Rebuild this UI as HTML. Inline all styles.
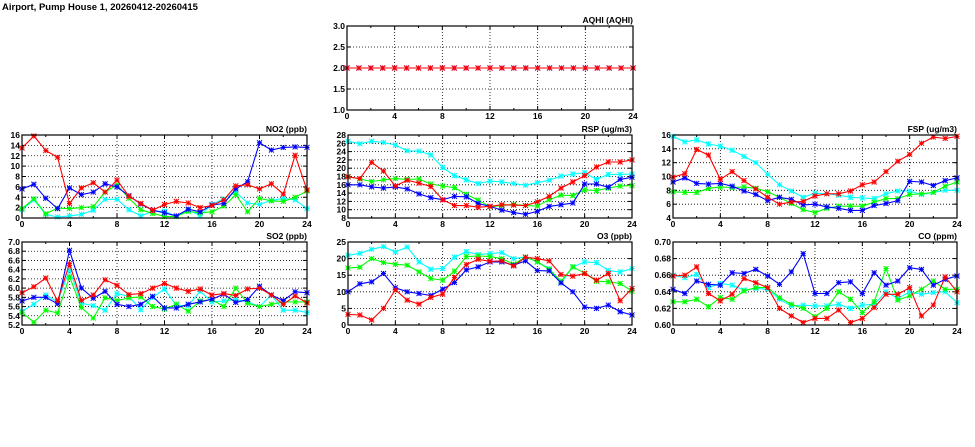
<!DOCTYPE html><html><head><meta charset="utf-8"><style>body{margin:0;background:#fff;width:975px;height:447px;overflow:hidden}svg{display:block}text{font-family:"Liberation Sans",sans-serif;font-weight:bold;font-size:8.5px;fill:#000}</style></head><body>
<svg id="s" width="975" height="447" xmlns="http://www.w3.org/2000/svg"><text x="2" y="10" style="font-size:9.5px">Airport, Pump House 1, 20260412-20260415</text></svg>
<script>
const S=document.getElementById('s');let h='';
const C={r:'#ff0000',b:'#0000ff',g:'#00ff00',c:'#00ffff'};
function panel(x0,x1,y0,y1,ymin,ymax,step,dec,label,series){
 const X=t=>x0+(x1-x0)*t/24,Y=v=>y1-(y1-y0)*(v-ymin)/(ymax-ymin);
 for(let t=4;t<24;t+=4)h+=`<line x1="${X(t)}" y1="${y0}" x2="${X(t)}" y2="${y1}" stroke="#000" stroke-width="0.8" stroke-dasharray="1,2"/>`;
 for(let v=ymin+step;v<ymax-1e-9;v+=step)h+=`<line x1="${x0}" y1="${Y(v)}" x2="${x1}" y2="${Y(v)}" stroke="#000" stroke-width="0.8" stroke-dasharray="1,2"/>`;
 for(let t=0;t<=24;t+=2){h+=`<line x1="${X(t)}" y1="${y1}" x2="${X(t)}" y2="${y1-(t%4?2:4)}" stroke="#000"/><line x1="${X(t)}" y1="${y0}" x2="${X(t)}" y2="${y0+(t%4?2:4)}" stroke="#000"/>`;if(t%4==0)h+=`<text x="${X(t)}" y="${y1+9}" text-anchor="middle">${t}</text>`;}
 for(let v=ymin;v<=ymax+1e-9;v+=step){h+=`<text x="${x0-2}" y="${Y(v)+3}" text-anchor="end">${v.toFixed(dec)}</text><line x1="${x0}" y1="${Y(v)}" x2="${x0+4}" y2="${Y(v)}" stroke="#000"/><line x1="${x1}" y1="${Y(v)}" x2="${x1-4}" y2="${Y(v)}" stroke="#000"/>`;}
 h+=`<text x="${x1}" y="${y0-3}" text-anchor="end">${label}</text>`;
 for(const [k,d] of series){const col=C[k];const p=d.map((v,i)=>X(i).toFixed(1)+','+Y(v).toFixed(1)).join(' ');
  h+=`<polyline points="${p}" fill="none" stroke="${col}" stroke-width="1.1"/>`;
  d.forEach((v,i)=>{const x=X(i),y=Y(v);h+=`<path d="M${x-2.5},${y-2.5}L${x+2.5},${y+2.5}M${x-2.5},${y+2.5}L${x+2.5},${y-2.5}M${x-2.5},${y}L${x+2.5},${y}M${x},${y-2.5}L${x},${y+2.5}" stroke="${col}" stroke-width="1"/>`;});}
 h+=`<rect x="${x0}" y="${y0}" width="${x1-x0}" height="${y1-y0}" fill="none" stroke="#000" stroke-width="1.2"/>`;
}
const two=Array(25).fill(2);
panel(347,633,26,110,1,3,0.5,1,'AQHI (AQHI)',[['b',two],['r',two]]);
panel(22,307,135,218,0,16,2,0,'NO2 (ppb)',[
['c',[1.6,3.5,0.7,0.2,0.4,0.7,1.5,3.6,3.6,1.6,0.4,1.3,1.3,0.3,1.5,0.5,2.6,3.7,5,2.9,2.6,3.4,3.8,3.5,1.8]],
['g',[1.8,3.7,0.8,1.9,1.8,2,2.2,5,6.4,3.8,1.6,0.9,0.3,0.3,1.3,1,1.2,2.3,4.5,1.2,3.8,3.3,3.2,4,5.2]],
['b',[5.6,6.5,3.8,1.8,5.8,4.5,5,6.6,6,4.3,2.7,1.5,1,0.4,1.7,1.2,2.5,2.8,5.6,7,14.5,13.1,13.6,13.7,13.6]],
['r',[13.5,15.8,13,11.7,2.8,5.8,6.8,5,7.3,4.2,2.8,1.5,2.6,3.2,2.9,2,2.4,3.5,6.2,6.4,5.6,6.6,4.6,12.1,5.4]]]);
panel(22,307,242,325,5.2,7.0,0.2,1,'SO2 (ppb)',[
['c',[5.5,5.65,5.85,5.7,6.4,5.67,5.62,5.52,5.88,5.82,5.53,5.8,5.98,5.62,5.62,5.93,5.7,5.72,5.75,5.7,5.6,5.85,5.52,5.52,5.47]],
['g',[5.47,5.26,5.52,5.46,6.25,5.58,5.35,5.79,5.73,5.79,5.81,5.6,5.55,5.65,5.5,5.72,5.75,5.6,6,5.67,5.6,5.65,5.7,5.7,5.7]],
['b',[5.72,5.8,5.8,5.66,6.82,6,5.78,5.93,5.65,5.6,5.65,5.82,5.57,5.57,5.65,5.7,5.76,5.87,5.69,5.75,6.04,5.85,5.73,5.92,5.9]],
['r',[5.9,6.03,6.22,5.72,6.53,5.73,5.85,6.18,6.06,5.86,5.88,6,6.1,6,5.93,5.98,5.85,5.88,5.84,5.98,6,5.85,5.65,5.83,5.68]]]);
panel(348,632,135,218,8,28,2,0,'RSP (ug/m3)',[
['c',[26.5,25.9,26.5,26.2,25.6,24.2,24.1,23.2,20.2,18.2,17.2,16.3,16.9,16.7,16.3,15.9,16.5,17.1,18.1,18.6,18.9,17.3,18.5,18.5,18.6]],
['g',[18,17.4,16.8,17.2,17.5,17.3,17.4,16.2,15.7,15.3,13.7,12.3,10.7,11,11.3,11,10.9,12.4,13.5,13.4,14.8,14.6,15.2,15.7,15.8]],
['b',[16,16,15.5,15.2,15.5,15,13.8,12.9,12.4,13.2,13.1,11.5,10.8,9.9,9.3,8.9,9.6,10.8,11.2,11.6,16.2,16.2,15.4,17.3,17.8]],
['r',[17.9,17.5,21.4,19.3,15.7,17.1,16.4,15.6,12.4,11,11,10.6,10.8,11.2,11.1,11,11.9,13.2,15.2,16.7,18.2,20.3,21.5,21.5,22]]]);
panel(348,632,242,325,0,25,5,0,'O3 (ppb)',[
['c',[21,21.6,22.8,23.6,22,23.5,19,16.8,17,20.4,22.1,21.2,21.5,21.8,20,20.5,19,17,12.7,17.5,19,18.8,16.4,16,17]],
['g',[17.2,17.4,20,18.8,18.3,18,16,14,13.5,16.2,20.6,20.8,20.6,20,18.3,20.5,19,16.8,13.2,17.5,15.6,13.2,13,12.5,10.2]],
['b',[10,12.4,13,15.5,11.2,10,9.5,8.9,10.8,12.8,16.6,17.5,19,19,18,19.3,16.4,16.3,12.7,10,5.4,5,6,4,3]],
['r',[3.2,3,1.5,5,10.6,7.5,6.3,8.3,9.3,14.3,18.2,19.8,19.2,19.3,17.8,20.4,20,19.3,15.2,14.7,15.5,13.5,15.5,7.3,11]]]);
panel(673,957,135,218,4,16,2,0,'FSP (ug/m3)',[
['c',[15.8,15,15.3,14.7,14.4,13.8,12.9,12,10.3,8.8,7.9,7,7.6,7.5,7.3,7,6.9,6.8,7.5,7.9,7.9,7.4,7.7,8,8]],
['g',[7.8,7.7,7.7,8.3,8.5,8.4,8.5,8.3,7.8,7,6.1,5.2,4.8,5.4,5.7,5.7,5.7,6.3,6.8,6.8,7.4,7.5,7.7,8.6,9.2]],
['b',[9.2,9.8,9,8.9,9,8.6,7.9,7.4,6.5,7,6.7,5.9,6,5.6,5.4,5.1,5.1,5.8,6.1,6.5,9.3,9.2,8.7,9.4,9.8]],
['r',[9.9,10.4,13.9,13.1,9.6,10.7,9.4,8.2,7,6,6.3,6.4,7.2,7.5,7.5,7.9,8.8,9.2,10.7,12.2,13.2,14.8,15.7,15.5,15.8]]]);
panel(673,957,242,325,0.60,0.70,0.02,2,'CO (ppm)',[
['c',[.660,.657,.661,.645,.650,.648,.642,.644,.643,.631,.623,.624,.623,.623,.625,.620,.624,.625,.640,.632,.640,.637,.639,.640,.627]],
['g',[.628,.628,.631,.622,.633,.631,.641,.645,.645,.633,.625,.620,.610,.620,.640,.631,.615,.628,.668,.630,.635,.643,.653,.643,.643]],
['b',[.643,.638,.653,.649,.648,.663,.662,.667,.659,.649,.664,.686,.638,.638,.651,.652,.638,.663,.648,.653,.669,.667,.648,.655,.659]],
['r',[.659,.660,.670,.638,.629,.637,.656,.651,.645,.620,.611,.603,.608,.608,.618,.603,.608,.621,.637,.637,.645,.611,.624,.658,.640]]]);
S.insertAdjacentHTML('beforeend',h);
</script></body></html>
